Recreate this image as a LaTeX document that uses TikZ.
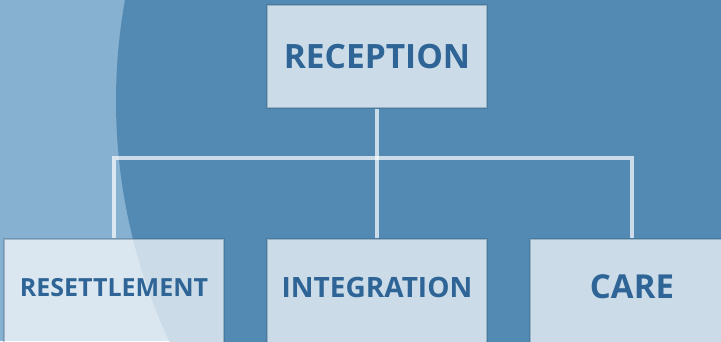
\documentclass[tikz,border=0pt]{standalone}
\usepackage{fontspec}
\setsansfont{Open Sans}
\usetikzlibrary{calc}

\definecolor{bgdark}{RGB}{82,138,180}
\definecolor{bglight}{RGB}{135,177,208}
\definecolor{labelblue}{RGB}{46,100,150}

\tikzset{
	unitbox/.style={rectangle, fill=white, fill opacity=0.7, text opacity=1,
		draw=bgdark!70!black, draw opacity=0.35, line width=1.5,
		text=labelblue, font=\sffamily\bfseries, inner sep=0,
		minimum width=220, minimum height=103},
	lowerbox/.style={unitbox, minimum height=104, text depth=8},
	link/.style={draw=white, draw opacity=0.7, line width=4},
}

\begin{document}
\begin{tikzpicture}[x=1pt, y=-1pt]

		\pgfmathsetmacro{\picwidth}{721}
		\pgfmathsetmacro{\picheight}{341}
		\pgfmathsetmacro{\bary}{158}

		\useasboundingbox (0,0) rectangle (\picwidth, \picheight);
		\clip (0,0) rectangle (\picwidth, \picheight);

		% background with the large dark disc
		\fill[bglight] (0,0) rectangle (\picwidth, \picheight);
		\fill[bgdark] (683, 101) circle[radius=567];

		\node[unitbox] (reception) at (377, 56.5) {\fontsize{33.5}{34}\selectfont RECEPTION};

		\node[lowerbox] (resettlement) at (114, 291) {\fontsize{25}{25}\selectfont RESETTLEMENT};
		\node[lowerbox] (integration) at (377, 291) {\fontsize{28}{28}\selectfont INTEGRATION};
		\node[lowerbox, minimum width=204] (care) at (632, 291) {\fontsize{33}{33}\selectfont CARE};

		\coordinate (bar) at (0, \bary);

		\draw[link] (reception.south) -- (integration.north); % trunk
		\draw[link] (resettlement.north) -- (resettlement |- bar) -- (care |- bar) -- (care.north); % branches
	\end{tikzpicture}
\end{document}
